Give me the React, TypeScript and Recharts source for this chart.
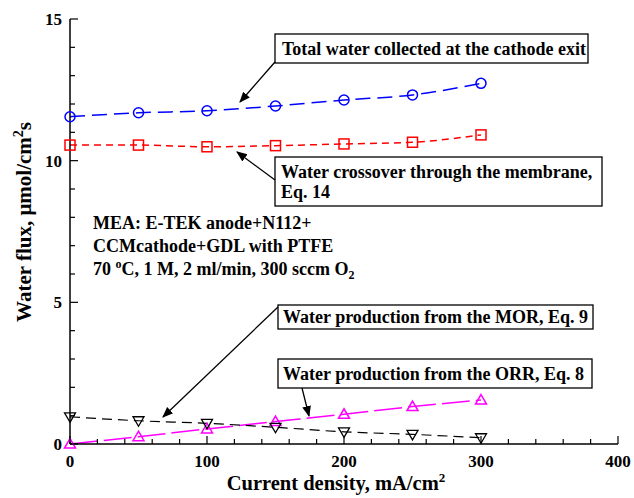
import React from 'react';
import { LineChart, Line, XAxis, YAxis } from 'recharts';

// Current density, mA/cm2
const currentDensity = [0, 50, 100, 150, 200, 250, 300];
// Water flux, umol/cm2 s
const totalWater = [11.55, 11.69, 11.76, 11.93, 12.14, 12.32, 12.73];
const crossover = [10.55, 10.55, 10.49, 10.53, 10.59, 10.65, 10.91];
const orrProduction = [0.0, 0.26, 0.53, 0.79, 1.05, 1.32, 1.55];
const morProduction = [0.96, 0.82, 0.73, 0.59, 0.43, 0.34, 0.22];

const xTicks = [0, 20, 40, 60, 80, 100, 120, 140, 160, 180, 200, 220, 240, 260, 280, 300, 320, 340, 360, 380, 400];
const yTicks = [0, 1, 2, 3, 4, 5, 6, 7, 8, 9, 10, 11, 12, 13, 14, 15];
const xMajor = [0, 100, 200, 300, 400];
const yMajor = [0, 5, 10, 15];

const data = currentDensity.map((x, i) => ({
  x,
  total: totalWater[i],
  cross: crossover[i],
  orr: orrProduction[i],
  mor: morProduction[i],
}));

const FONT = '"Liberation Serif", "Times New Roman", serif';
const W = 634;
const H = 498;
const MARGIN = { top: 19, right: 16, bottom: 24, left: 30 };

const BottomTick = (props: any) => {
  const { x, y, payload } = props;
  const major = xMajor.includes(payload.value);
  return (
    <g>
      <line x1={x} y1={y} x2={x} y2={y - (major ? 8 : 5)} stroke="#000" strokeWidth={1.2} />
      {major && (
        <text x={x} y={y + 23} textAnchor="middle" fontFamily={FONT} fontWeight="bold" fontSize={17} fill="#000">
          {payload.value}
        </text>
      )}
    </g>
  );
};

const TopTick = (props: any) => {
  const { x, y, payload } = props;
  const major = xMajor.includes(payload.value);
  return <line x1={x} y1={y} x2={x} y2={y + (major ? 8 : 5)} stroke="#000" strokeWidth={1.2} />;
};

const LeftTick = (props: any) => {
  const { x, y, payload } = props;
  const major = yMajor.includes(payload.value);
  return (
    <g>
      <line x1={x} y1={y} x2={x + (major ? 8 : 5)} y2={y} stroke="#000" strokeWidth={1.2} />
      {major && (
        <text x={x - 8} y={y + 6} textAnchor="end" fontFamily={FONT} fontWeight="bold" fontSize={17} fill="#000">
          {payload.value}
        </text>
      )}
    </g>
  );
};

const RightTick = (props: any) => {
  const { x, y, payload } = props;
  const major = yMajor.includes(payload.value);
  return <line x1={x} y1={y} x2={x - (major ? 8 : 5)} y2={y} stroke="#000" strokeWidth={1.2} />;
};

const CircleDot = (props: any) => {
  const { cx, cy } = props;
  return <circle cx={cx} cy={cy} r={5} fill="none" stroke="#0000ff" strokeWidth={1.5} />;
};
const SquareDot = (props: any) => {
  const { cx, cy } = props;
  return <rect x={cx - 5} y={cy - 5} width={10} height={10} fill="none" stroke="#ff0000" strokeWidth={1.5} />;
};
const UpDot = (props: any) => {
  const { cx, cy } = props;
  return (
    <path d={`M${cx},${cy - 5.5} L${cx + 5.5},${cy + 4} L${cx - 5.5},${cy + 4} Z`} fill="none" stroke="#ff00ff" strokeWidth={1.5} />
  );
};
const DownDot = (props: any) => {
  const { cx, cy } = props;
  return (
    <path d={`M${cx},${cy + 5.5} L${cx + 5.5},${cy - 4} L${cx - 5.5},${cy - 4} Z`} fill="none" stroke="#000" strokeWidth={1.3} />
  );
};

const labelStyle: React.CSSProperties = {
  fontFamily: FONT,
  fontWeight: 'bold',
  fontSize: 18,
  fill: '#000',
};

// Boxed callouts, condition notes and axis titles drawn over the plot
const Annotations = () => (
  <svg width={W} height={H} style={{ position: 'absolute', left: 0, top: 0, pointerEvents: 'none' }}>
    <defs>
      <marker id="head" viewBox="0 0 10 10" refX="9" refY="5" markerWidth="11" markerHeight="11" orient="auto-start-reverse" markerUnits="userSpaceOnUse">
        <path d="M0,1 L10,5 L0,9 Z" fill="#000" />
      </marker>
    </defs>

    <rect x={275} y={34} width={313} height={29} fill="#fff" stroke="#000" strokeWidth={1.3} />
    <text x={282} y={55} style={labelStyle}>Total water collected at the cathode exit</text>
    <line x1={275} y1={62} x2={240} y2={102} stroke="#000" strokeWidth={1.3} markerEnd="url(#head)" />

    <rect x={275} y={157} width={327} height={49} fill="#fff" stroke="#000" strokeWidth={1.3} />
    <text x={281} y={178} style={labelStyle}>Water crossover through the membrane,</text>
    <text x={281} y={198} style={labelStyle}>Eq. 14</text>
    <line x1={275} y1={180} x2={237} y2={152} stroke="#000" strokeWidth={1.3} markerEnd="url(#head)" />

    <text x={93} y={229} style={labelStyle}>MEA: E-TEK anode+N112+</text>
    <text x={93} y={252} style={labelStyle}>CCMcathode+GDL with PTFE</text>
    <text x={93} y={275} style={labelStyle}>
      70 <tspan dy={-7} fontSize={12}>o</tspan><tspan dy={7}>C, 1 M, 2 ml/min, 300 sccm O</tspan>
      <tspan dy={4} fontSize={12}>2</tspan>
    </text>

    <rect x={278} y={305} width={315} height={24} fill="#fff" stroke="#000" strokeWidth={1.3} />
    <text x={283} y={323} style={labelStyle}>Water production from the MOR, Eq. 9</text>
    <line x1={278} y1={307} x2={163} y2={417} stroke="#000" strokeWidth={1.3} markerEnd="url(#head)" />

    <rect x={278} y={359} width={314} height={29} fill="#fff" stroke="#000" strokeWidth={1.3} />
    <text x={283} y={380} style={labelStyle}>Water production from the ORR, Eq. 8</text>
    <line x1={302} y1={388} x2={309} y2={416} stroke="#000" strokeWidth={1.3} markerEnd="url(#head)" />

    <text x={336} y={490} textAnchor="middle" fontFamily={FONT} fontWeight="bold" fontSize={20.5} fill="#000">
      Current density, mA/cm<tspan dy={-8} fontSize={13}>2</tspan>
    </text>
    <text
      transform="translate(31,222) rotate(-90)"
      textAnchor="middle"
      fontFamily={FONT}
      fontWeight="bold"
      fontSize={21}
      fill="#000"
    >
      Water flux, μmol/cm<tspan dy={-8} fontSize={14}>2</tspan><tspan dy={8}>s</tspan>
    </text>
  </svg>
);

export default function App() {
  return (
    <div style={{ position: 'absolute', left: 0, top: 0, width: W, height: H, background: '#fff' }}>
      <LineChart width={W} height={H} data={data} margin={MARGIN}>
        <XAxis
          dataKey="x"
          type="number"
          domain={[0, 400]}
          ticks={xTicks}
          interval={0}
          height={30}
          tickSize={0}
          tickMargin={0}
          tickLine={false}
          tick={<BottomTick />}
          axisLine={{ stroke: '#000', strokeWidth: 1.5 }}
        />
        <XAxis
          xAxisId="top"
          orientation="top"
          dataKey="x"
          type="number"
          domain={[0, 400]}
          ticks={xTicks}
          interval={0}
          height={0}
          tickSize={0}
          tickMargin={0}
          tickLine={false}
          tick={<TopTick />}
          axisLine={{ stroke: '#000', strokeWidth: 1.5 }}
        />
        <YAxis
          type="number"
          domain={[0, 15]}
          ticks={yTicks}
          interval={0}
          width={40}
          tickSize={0}
          tickMargin={0}
          tickLine={false}
          tick={<LeftTick />}
          axisLine={{ stroke: '#000', strokeWidth: 1.5 }}
        />
        <YAxis
          yAxisId="right"
          orientation="right"
          type="number"
          domain={[0, 15]}
          ticks={yTicks}
          interval={0}
          width={0}
          tickSize={0}
          tickMargin={0}
          tickLine={false}
          tick={<RightTick />}
          axisLine={{ stroke: '#000', strokeWidth: 1.5 }}
        />
        <Line
          dataKey="total"
          type="monotone"
          stroke="#0000ff"
          strokeWidth={1.5}
          strokeDasharray="15 7"
          dot={<CircleDot />}
          isAnimationActive={false}
        />
        <Line
          dataKey="cross"
          type="monotone"
          stroke="#ff0000"
          strokeWidth={1.5}
          strokeDasharray="7 5"
          dot={<SquareDot />}
          isAnimationActive={false}
        />
        <Line
          dataKey="orr"
          type="monotone"
          stroke="#ff00ff"
          strokeWidth={1.5}
          strokeDasharray="28 6"
          dot={<UpDot />}
          isAnimationActive={false}
        />
        <Line
          dataKey="mor"
          type="monotone"
          stroke="#000"
          strokeWidth={1.2}
          strokeDasharray="10 6"
          dot={<DownDot />}
          isAnimationActive={false}
        />
      </LineChart>
      <Annotations />
    </div>
  );
}
